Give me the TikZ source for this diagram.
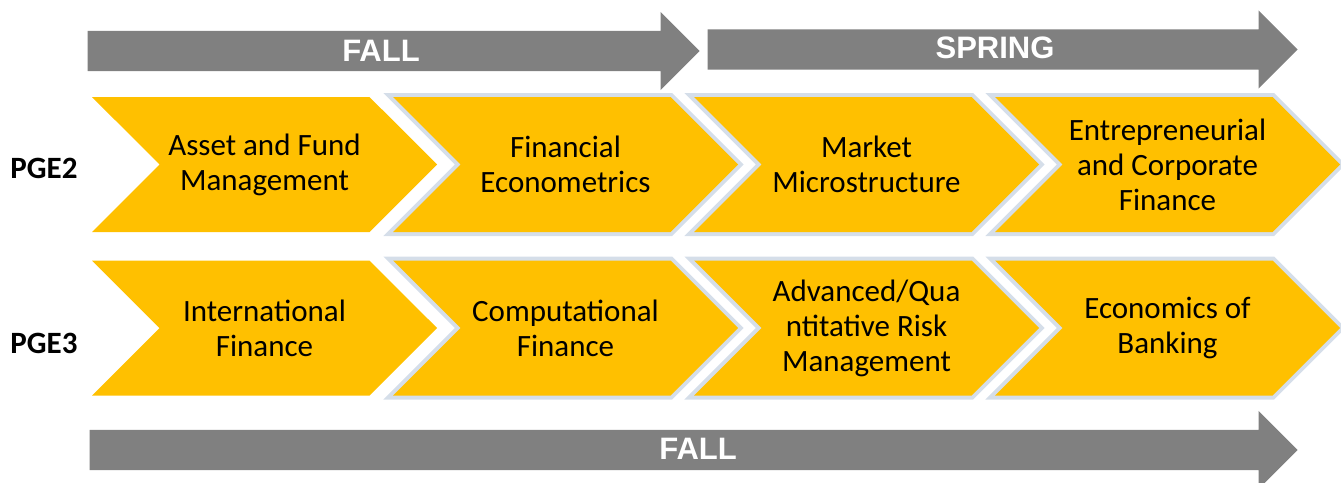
\documentclass[tikz,border=0pt]{standalone}
\usepackage{fontspec}
\setmainfont{Carlito}
\newfontfamily\arrowfont{Liberation Sans}
\usetikzlibrary{shapes.symbols,shapes.arrows,positioning}

\definecolor{gold}{HTML}{FFC000}
\definecolor{termgrey}{HTML}{808080}
\definecolor{rim}{HTML}{D5DEE9}

\begin{document}
\begin{tikzpicture}[x=1pt,
            y=-1pt,
            course/.style={signal,
                           signal to=east,
                           signal from=west,
                           signal pointer angle=90,
                           fill=gold,
                           minimum width=345pt,
                           minimum height=135pt,
                           inner sep=0pt,
                           align=center,
                           font=\fontsize{31}{35}\selectfont},
            rimmed/.style={course,
                           preaction={draw=rim, line width=8pt}},
            term/.style={single arrow,
                         single arrow head extend=19pt,
                         single arrow head indent=0pt,
                         fill=termgrey,
                         inner xsep=0pt,
                         inner ysep=20pt,
                         anchor=tip},
            termlabel/.style={text=white,
                              font=\arrowfont\bfseries\fontsize{31}{35}\selectfont},
            prog/.style={font=\bfseries\fontsize{31}{35}\selectfont}]

        \useasboundingbox (0,0) rectangle (1341,482);

        % term arrows
        \node[term, minimum height=612pt]  (fall)   at (700,51)    {};
        \node[term, minimum height=590pt]  (spring) at (1298,49.5) {};
        \node[term, minimum height=1208pt] (fallB)  at (1298,450)  {};

        \node[termlabel] (fallT)   at (381,51)  {FALL};
        \node[termlabel] (springT) at (995,48)  {SPRING};
        \node[termlabel] (fallBT)  at (698,449) {FALL};

        % programmes
        \node[prog] (pge2) at (44,168) {PGE2};
        \node[prog] (pge3) at (44,343) {PGE3};

        % PGE2 courses
        \node[course] (afm) at (264.5,164.5) {Asset and Fund\\Management};
        \node[rimmed] (fe)  at (565.5,164.5) {Financial\\Econometrics};
        \node[rimmed] (mm)  at (866.5,164.5) {Market\\Microstructure};
        \node[rimmed] (ecf) at (1167.5,164.5) {Entrepreneurial\\and Corporate\\Finance};

        % PGE3 courses
        \node[course] (intf) at (264.5,328) {International\\Finance};
        \node[rimmed] (cf)   at (565.5,328) {Computational\\Finance};
        \node[rimmed] (qrm)  at (866.5,328) {Advanced/Qua\\ntitative Risk\\Management};
        \node[rimmed] (eob)  at (1167.5,328) {Economics of\\Banking};

\end{tikzpicture}
\end{document}
